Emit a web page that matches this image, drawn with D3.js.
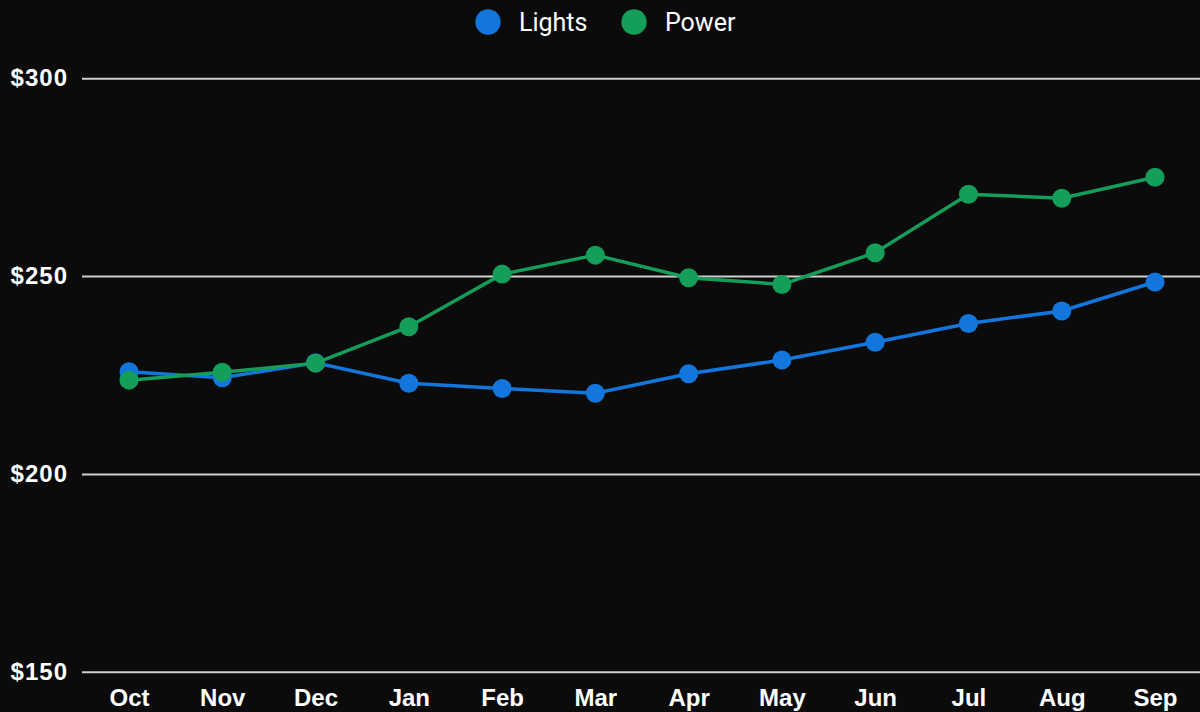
<!DOCTYPE html>
<head>
  <meta charset="utf-8">
  <script src="https://d3js.org/d3.v7.min.js"></script>
  <style>
    body { margin:0; background:#0b0b0b; overflow:hidden; }
    svg { display:block; }
  </style>
</head>
<body>
<script>
var months = ["Oct","Nov","Dec","Jan","Feb","Mar","Apr","May","Jun","Jul","Aug","Sep"];
var lights = [225.8, 224.3, 228.1, 222.9, 221.6, 220.4, 225.3, 228.8, 233.3, 238.0, 241.2, 248.5];
var power  = [223.7, 225.7, 228.0, 237.2, 250.5, 255.3, 249.6, 247.9, 255.9, 270.7, 269.7, 275.0];
var yTicks = [150, 200, 250, 300];
var seriesNames = ["Lights", "Power"];
var colors = ["#1276dc", "#149e5a"];

var width = 1200, height = 712;
var svg = d3.select("body").append("svg")
  .attr("width", width).attr("height", height);

var x = d3.scalePoint().domain(months).range([129, 1155]);
var y = d3.scaleLinear().domain([150, 300]).range([671.7, 78.3]);

// grid + y labels
var yAxis = svg.append("g")
  .attr("transform", "translate(82,0)")
  .call(d3.axisLeft(y).tickValues(yTicks).tickSize(-(width - 82)).tickPadding(14)
    .tickFormat(function(d){ return "$" + d; }));
yAxis.select(".domain").remove();
yAxis.selectAll(".tick line").attr("stroke", "#cfcfcf").attr("stroke-width", 2);
yAxis.selectAll(".tick text")
  .attr("fill", "#fff")
  .style("font-family", "'Liberation Sans', Arial, sans-serif")
  .style("font-weight", "bold")
  .style("font-size", "24px")
  .style("letter-spacing", "1px");

// x labels
var xAxis = svg.append("g")
  .attr("transform", "translate(0,681)")
  .call(d3.axisBottom(x).tickSize(0).tickPadding(8));
xAxis.select(".domain").remove();
xAxis.selectAll(".tick text")
  .attr("fill", "#fff")
  .style("font-family", "'Liberation Sans', Arial, sans-serif")
  .style("font-weight", "bold")
  .style("font-size", "24px");

var data = [lights, power];
var line = d3.line()
  .x(function(d, i){ return x(months[i]); })
  .y(function(d){ return y(d); });

data.forEach(function(vals, k){
  svg.append("path")
    .datum(vals)
    .attr("d", line)
    .attr("fill", "none")
    .attr("stroke", colors[k])
    .attr("stroke-width", 3.5);
  svg.append("g").selectAll("circle")
    .data(vals)
    .enter().append("circle")
    .attr("cx", function(d, i){ return x(months[i]); })
    .attr("cy", function(d){ return y(d); })
    .attr("r", 9.5)
    .attr("fill", colors[k]);
});

// legend
var legendX = [488, 634];
var legend = svg.append("g");
seriesNames.forEach(function(n, k){
  legend.append("circle")
    .attr("cx", legendX[k]).attr("cy", 22).attr("r", 12.7)
    .attr("fill", colors[k]);
  legend.append("text")
    .attr("x", legendX[k] + 31).attr("y", 31)
    .attr("fill", "#fff")
    .style("font-family", "Roboto, sans-serif")
    .style("font-size", "25px")
    .text(n);
});
</script>
</body>
